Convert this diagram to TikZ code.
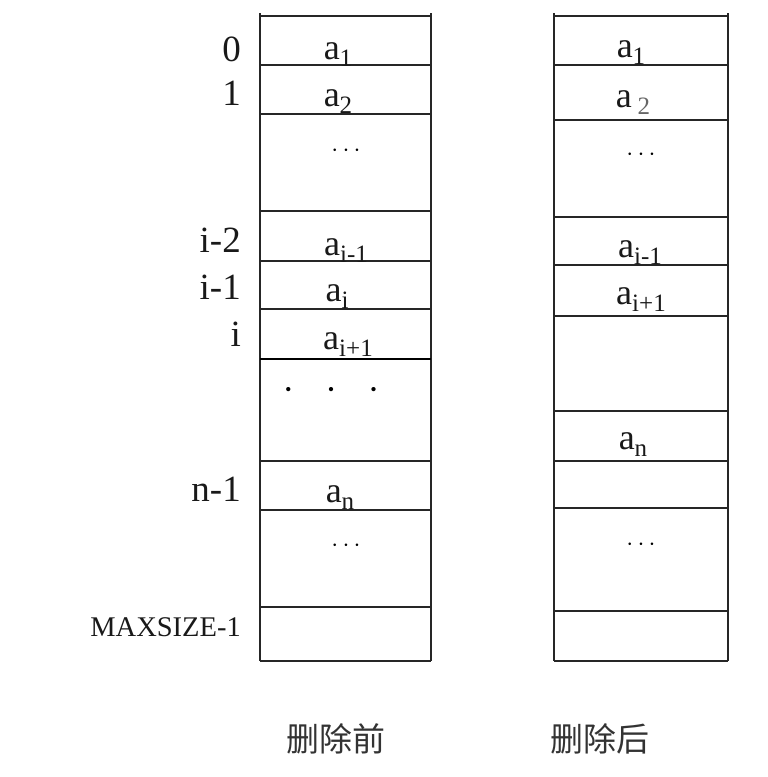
\documentclass[tikz,border=0pt]{standalone}
\usepackage{fontspec}
\setmainfont{Liberation Serif}
\newfontfamily\cjk{Noto Sans CJK SC}
\newcommand\mysub[1]{\raisebox{-0.2em}{\fontsize{25}{25}\selectfont #1}}
\begin{document}
\begin{tikzpicture}[x=1pt,y=-1pt,
  cellline/.style={line width=1.4pt,draw=black!85},
  thickline/.style={line width=2.6pt,draw=black},
  idx/.style={anchor=base east,inner sep=0pt,font=\fontsize{37}{37}\selectfont,text=black!90},
  val/.style={anchor=base,inner sep=0pt,font=\fontsize{36}{36}\selectfont,text=black!90},
  dotsl/.style={anchor=center,inner sep=0pt,font=\fontsize{36}{36}\selectfont},
  captext/.style={anchor=base,inner sep=0pt,font=\cjk\fontsize{33}{33}\selectfont,text=black!80}]
\useasboundingbox (0,0) rectangle (768,777);
% left column
\draw[cellline] (260,13) -- (260,661);
\draw[cellline] (431,13) -- (431,661);
\foreach \y in {16,65,114,211,261,309,461,510,607,661}
  \draw[cellline] (260,\y) -- (431,\y);
\draw[thickline] (260,359) -- (431,359);
% right column
\draw[cellline] (554,13) -- (554,661);
\draw[cellline] (728,13) -- (728,661);
\foreach \y in {16,65,120,217,265,316,411,461,508,611,661}
  \draw[cellline] (554,\y) -- (728,\y);
% index labels
\node[idx] (i0) at (241,61) {0};
\node[idx] (i1) at (241,105) {1};
\node[idx] (i2) at (241,252) {i-2};
\node[idx] (i3) at (241,299) {i-1};
\node[idx] (i4) at (241,346) {i};
\node[idx] (i5) at (241,501) {n-1};
\node[idx,font=\fontsize{28.5}{28.5}\selectfont] (i6) at (241,636) {MAXSIZE-1};
% left values
\node[val] (l1) at (338,59) {a\mysub{1}};
\node[val] (l2) at (338,106) {a\mysub{2}};
\node[dotsl] (l3) at (346,151) {$\cdots$};
\node[val] (l4) at (346,255) {a\mysub{i-1}};
\node[val] (l5) at (337,301) {a\mysub{i}};
\node[val] (l6) at (348,349) {a\mysub{i+1}};
\node[dotsl] (l7) at (331,394) {·\hspace{0.85em}·\hspace{0.85em}·};
\node[val] (l8) at (340,502) {a\mysub{n}};
\node[dotsl] (l9) at (346,546) {$\cdots$};
% right values
\node[val] (r1) at (631,57) {a\mysub{1}};
\node[val] (r2) at (633,107) {a\,\mysub{\textcolor{black!60}{2}}};
\node[dotsl] (r3) at (641,155) {$\cdots$};
\node[val] (r4) at (640,257) {a\mysub{i-1}};
\node[val] (r5) at (641,304) {a\mysub{i+1}};
\node[val] (r6) at (633,449) {a\mysub{n}};
\node[dotsl] (r7) at (641,545) {$\cdots$};
% captions
\node[captext] (c1) at (336,751) {删除前};
\node[captext] (c2) at (600,751) {删除后};
\end{tikzpicture}
\end{document}
